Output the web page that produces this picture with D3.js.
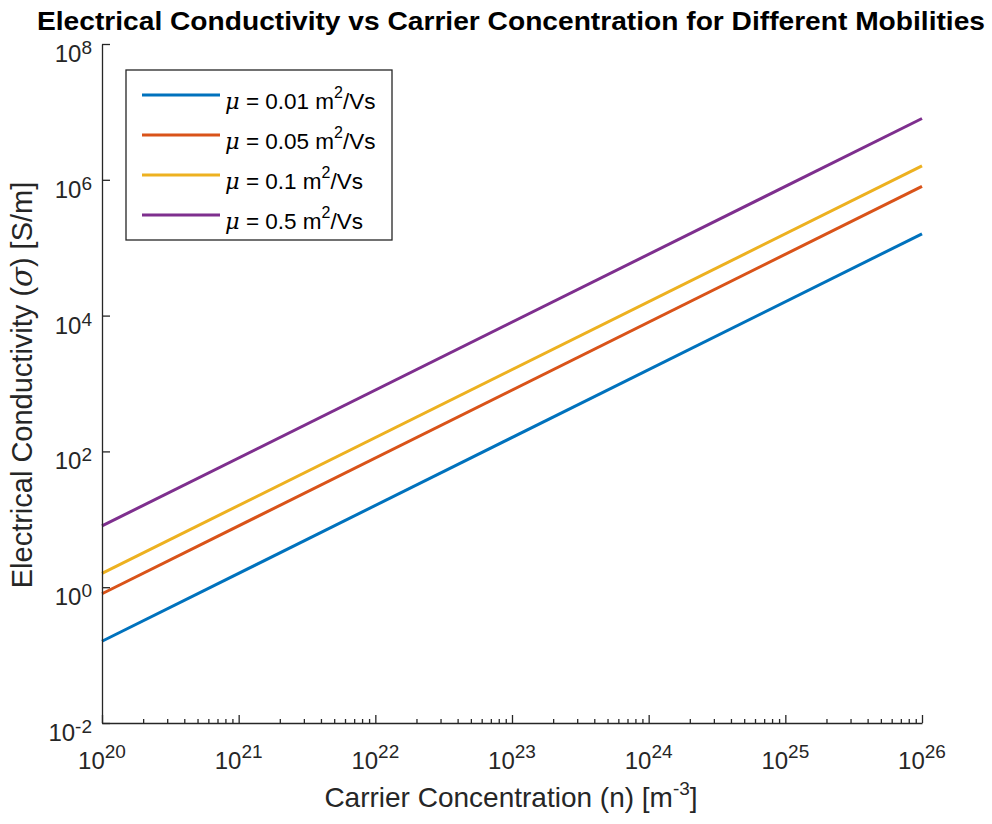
<!DOCTYPE html>
<html>
<head>
<meta charset="utf-8">
<script src="https://cdn.jsdelivr.net/npm/d3@7"></script>
<style>
  body { margin: 0; background: #fff; }
  svg { font-family: "Liberation Sans", Arial, Helvetica, sans-serif; }
</style>
</head>
<body>
<svg></svg>
<script>
// carrier concentration at the two ends of each line (m^-3)
let carrierN = [1e20, 1e26]
// conductivity read at those ends (S/m)
let sigmaMu001 = [0.16, 1.6e5]
let sigmaMu005 = [0.8, 8e5]
let sigmaMu01 = [1.6, 1.6e6]
let sigmaMu05 = [8, 8e6]
let mobilityLabels = ['0.01', '0.05', '0.1', '0.5']
let lineColors = ['#0072BD', '#D95319', '#EDB120', '#7E2F8E']

let xExponents = [20, 21, 22, 23, 24, 25, 26]
let yExponents = [-2, 0, 2, 4, 6, 8]

let width = 992
let height = 824
let plotLeft = 102, plotRight = 922, plotTop = 44, plotBottom = 723
let axisColor = '#262626'

let svg = d3.select('svg').attr('width', width).attr('height', height)

let xScale = d3.scaleLog().domain([1e20, 1e26]).range([plotLeft, plotRight])
let yScale = d3.scaleLog().domain([1e-2, 1e8]).range([plotBottom, plotTop])

let series = [sigmaMu001, sigmaMu005, sigmaMu01, sigmaMu05].map((vals, i) => {
    return { label: mobilityLabels[i], color: lineColors[i], points: carrierN.map((n, j) => [n, vals[j]]) }
})

// minor ticks 2..9 on the x axis
let xMinor = []
xExponents.slice(0, -1).forEach(e => {
    for (let k = 2; k <= 9; k++) xMinor.push(k * Math.pow(10, e))
})

// lines
let line = d3.line().x(d => xScale(d[0])).y(d => yScale(d[1]))
svg.append('g').selectAll('path')
    .data(series)
    .enter()
    .append('path')
    .attr('d', d => line(d.points))
    .attr('fill', 'none')
    .attr('stroke', d => d.color)
    .attr('stroke-width', 3)

// x axis
let xAxisG = svg.append('g').attr('transform', 'translate(0,' + plotBottom + ')')
xAxisG.call(d3.axisBottom(xScale).tickValues(xExponents.map(e => Math.pow(10, e))).tickSize(-8).tickSizeOuter(0).tickFormat(''))
xAxisG.append('g').call(d3.axisBottom(xScale).tickValues(xMinor).tickSize(-4).tickFormat(''))
    .select('.domain').remove()

// y axis
let yAxisG = svg.append('g').attr('transform', 'translate(' + plotLeft + ',0)')
yAxisG.call(d3.axisLeft(yScale).tickValues(yExponents.map(e => Math.pow(10, e))).tickSize(-8).tickSizeOuter(0).tickFormat(''))

svg.selectAll('.domain').attr('stroke', axisColor).attr('stroke-width', 1.3)
svg.selectAll('.tick line').attr('stroke', axisColor).attr('stroke-width', 1.3)

// tick labels with superscripts
let powerLabel = (g, e, rise) => {
    g.append('tspan').text('10')
    g.append('tspan').attr('dy', -rise).attr('font-size', 19).text(e)
}

svg.append('g').selectAll('text')
    .data(xExponents)
    .enter()
    .append('text')
    .attr('x', d => xScale(Math.pow(10, d)))
    .attr('y', 769)
    .attr('text-anchor', 'middle')
    .attr('font-size', 24)
    .attr('fill', axisColor)
    .each(function (d) { powerLabel(d3.select(this), d, 11) })

svg.append('g').selectAll('text')
    .data(yExponents)
    .enter()
    .append('text')
    .attr('x', 92)
    .attr('y', d => yScale(Math.pow(10, d)) + 18)
    .attr('text-anchor', 'end')
    .attr('font-size', 24)
    .attr('fill', axisColor)
    .each(function (d) { powerLabel(d3.select(this), d, 8) })

// title
svg.append('text')
    .attr('x', 511)
    .attr('y', 30)
    .attr('text-anchor', 'middle')
    .attr('font-size', 25)
    .attr('font-weight', 'bold')
    .attr('fill', '#000')
    .attr('textLength', 948)
    .attr('lengthAdjust', 'spacingAndGlyphs')
    .text('Electrical Conductivity vs Carrier Concentration for Different Mobilities')

// x label
let xLabel = svg.append('text')
    .attr('x', 511)
    .attr('y', 807)
    .attr('text-anchor', 'middle')
    .attr('font-size', 28)
    .attr('fill', axisColor)
xLabel.append('tspan').text('Carrier Concentration (n) [m')
xLabel.append('tspan').attr('dy', -12).attr('font-size', 19).text('-3')
xLabel.append('tspan').attr('dy', 12).text(']')

// y label
let yLabel = svg.append('text')
    .attr('transform', 'translate(32,385) rotate(-90)')
    .attr('text-anchor', 'middle')
    .attr('font-size', 29)
    .attr('fill', axisColor)
yLabel.append('tspan').text('Electrical Conductivity (')
yLabel.append('tspan').attr('font-family', '"DejaVu Serif", serif').attr('font-style', 'italic').text('σ')
yLabel.append('tspan').text(') [S/m]')

// legend
let legend = svg.append('g')
legend.append('rect')
    .attr('x', 126).attr('y', 70).attr('width', 266).attr('height', 170)
    .attr('fill', '#fff').attr('stroke', axisColor).attr('stroke-width', 1.3)

let rows = legend.selectAll('g.row')
    .data(series)
    .enter()
    .append('g')
    .attr('class', 'row')
    .attr('transform', (d, i) => 'translate(0,' + (95 + i * 40) + ')')

rows.append('line')
    .attr('x1', 142).attr('x2', 220)
    .attr('stroke', d => d.color)
    .attr('stroke-width', 3)

let rowText = rows.append('text')
    .attr('x', 225)
    .attr('y', 14)
    .attr('font-size', 22.5)
    .attr('fill', '#000')
rowText.append('tspan').attr('font-family', '"DejaVu Serif", serif').attr('font-style', 'italic').text('μ')
rowText.append('tspan').text(d => ' = ' + d.label + ' m')
rowText.append('tspan').attr('dy', -11).attr('font-size', 16).text('2')
rowText.append('tspan').attr('dy', 11).text('/Vs')
</script>
</body>
</html>
